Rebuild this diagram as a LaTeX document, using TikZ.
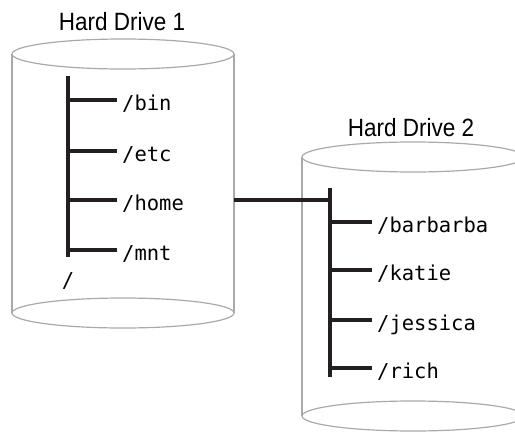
\documentclass[tikz,border=0pt]{standalone}
\usepackage{fontspec}
\usetikzlibrary{positioning}
\newfontfamily\titlefont[FakeStretch=0.9]{Liberation Sans}
\newfontfamily\pathfont{DejaVu Sans Mono}
\definecolor{inkblack}{HTML}{231F20}
\definecolor{diskgray}{HTML}{A7A9AC}
\begin{document}
\begin{tikzpicture}[x=1pt,y=-1pt,
  disk/.style={draw=diskgray,line width=1.2pt},
  branch/.style={draw=inkblack,line width=3.5pt},
  title/.style={font=\titlefont\fontsize{25}{30}\selectfont,inner sep=0pt},
  dir/.style={font=\pathfont\fontsize{20.5}{24}\selectfont,anchor=west,inner xsep=5pt,inner ysep=0pt,text height=20pt,text depth=0pt}]
\useasboundingbox (0,0) rectangle (515,432);
\clip (0,0) rectangle (515,432);
% hard drive 1
\draw[disk] (12,54) -- (12,313) (234,54) -- (234,313);
\draw[disk] (123,313) ellipse (111 and 15);
\draw[disk,fill=white] (123,54) ellipse (111 and 15);
\node[title] (hd1) at (122,22) {Hard Drive 1};
% hard drive 2
\draw[disk] (302,157) -- (302,416) (524,157) -- (524,416);
\draw[disk] (413,416) ellipse (111 and 15);
\draw[disk,fill=white] (413,157) ellipse (111 and 15);
\node[title] (hd2) at (411,128) {Hard Drive 2};
% tree on drive 1
\coordinate (top1) at (68,76);
\coordinate (bot1) at (68,257);
\node[dir] (bin) at (117,100) {/bin};
\node[dir] (etc) at (117,151) {/etc};
\node[dir] (home) at (117,200) {/home};
\node[dir] (mnt) at (117,250) {/mnt};
\node[dir,anchor=center,inner xsep=0pt] (root) at (68,277) {/};
\draw[branch] (top1) -- (bot1);
\foreach \d in {bin,etc,home,mnt}
  \draw[branch] (top1 |- \d.west) -- (\d.west);
% tree on drive 2
\coordinate (top2) at (330,188);
\coordinate (bot2) at (330,377);
\node[dir] (barbarba) at (372,222) {/barbarba};
\node[dir] (katie) at (372,270) {/katie};
\node[dir] (jessica) at (372,320) {/jessica};
\node[dir] (rich) at (372,368) {/rich};
\draw[branch] (top2) -- (bot2);
\foreach \d in {barbarba,katie,jessica,rich}
  \draw[branch] (top2 |- \d.west) -- (\d.west);
% mount link
\coordinate (mount) at (234,200);
\draw[branch] (mount) -- (mount -| top2);
\end{tikzpicture}
\end{document}
